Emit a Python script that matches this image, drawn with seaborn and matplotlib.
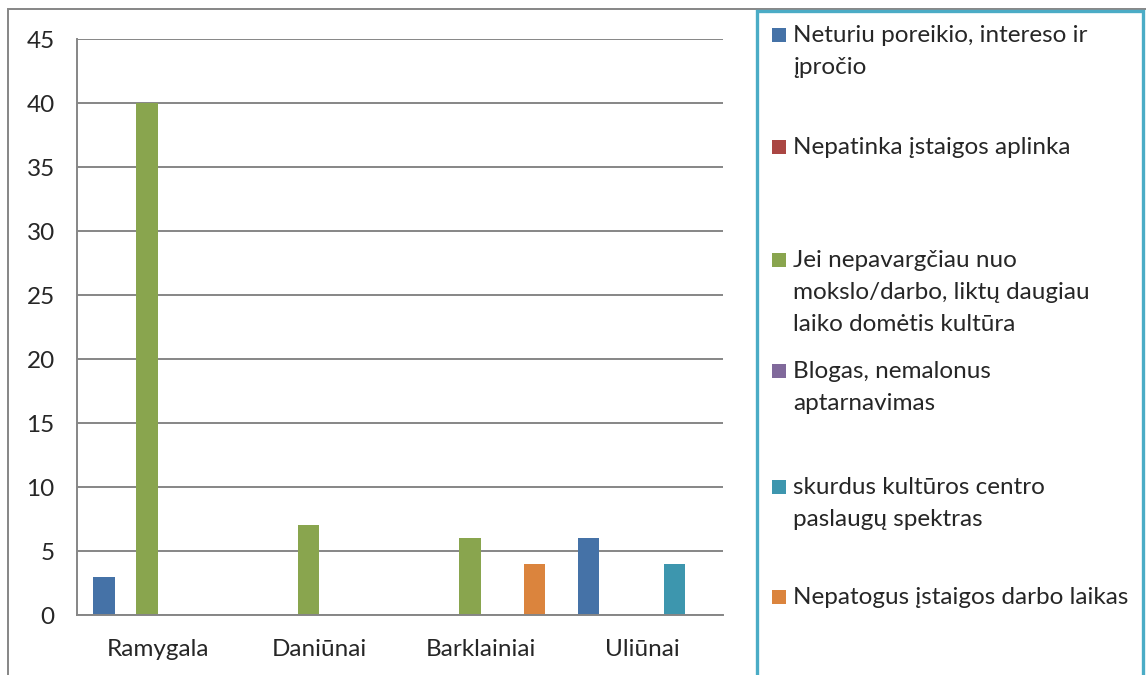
import pandas as pd
import matplotlib.pyplot as plt
import seaborn as sns
from matplotlib.patches import Rectangle

# data
vietos = ['Ramygala', 'Daniūnai', 'Barklainiai', 'Uliūnai']
serijos = [
    'Neturiu poreikio, intereso ir\nįpročio',
    'Nepatinka įstaigos aplinka',
    'Jei nepavargčiau nuo\nmokslo/darbo, liktų daugiau\nlaiko domėtis kultūra',
    'Blogas, nemalonus\naptarnavimas',
    'skurdus kultūros centro\npaslaugų spektras',
    'Nepatogus įstaigos darbo laikas',
]
neturiu = [3, 0, 0, 6]
nepatinka = [0, 0, 0, 0]
nepavargciau = [40, 7, 6, 0]
blogas = [0, 0, 0, 0]
skurdus = [0, 0, 0, 4]
nepatogus = [0, 0, 4, 0]
spalvos = ['#4572A7', '#AA4643', '#89A54E', '#80699B', '#3D96AE', '#DB843D']

rows = []
for s, vals in zip(serijos, [neturiu, nepatinka, nepavargciau, blogas, skurdus, nepatogus]):
    for v, val in zip(vietos, vals):
        rows.append({'vieta': v, 'serija': s, 'reiksme': val})
df = pd.DataFrame(rows)

sns.set_style('white')
plt.rcParams['font.family'] = ['Lato', 'DejaVu Sans']
FS = 17.5
GRAY = '#868686'

W, H = 1146, 675
fig = plt.figure(figsize=(W / 100, H / 100), dpi=100)


def fx(px):
    return px / W


def fy(py):
    return 1 - py / H


ax = fig.add_axes([fx(77), fy(615), fx(723) - fx(77), fy(39) - fy(615)])
sns.barplot(data=df, x='vieta', y='reiksme', hue='serija', palette=spalvos,
            saturation=1, width=0.8, linewidth=0, legend=False, ax=ax)

ax.set_xlim(-0.5, len(vietos) - 0.5)
ax.set_ylim(0, 45)
ax.set_yticks(range(0, 46, 5))
ax.set_xlabel('')
ax.set_ylabel('')
ax.yaxis.grid(True, color=GRAY, linewidth=1.4)
ax.set_axisbelow(True)
for side in ['top', 'right']:
    ax.spines[side].set_visible(False)
for side in ['left', 'bottom']:
    ax.spines[side].set_color(GRAY)
    ax.spines[side].set_linewidth(1.4)

ax.tick_params(axis='y', length=6, width=1.4, color=GRAY, pad=10, labelsize=FS)
ax.set_xticks([i - 0.5 for i in range(len(vietos) + 1)], minor=True)
ax.tick_params(axis='x', which='major', length=0, pad=17, labelsize=FS)
ax.tick_params(axis='x', which='minor', length=6, width=1.4, color=GRAY)

# outer chart border
fig.patches.append(Rectangle((fx(8), fy(720)), fx(1200) - fx(8), fy(9) - fy(720),
                             transform=fig.transFigure, fill=False,
                             edgecolor=GRAY, linewidth=1.4, clip_on=False))
# legend box
fig.patches.append(Rectangle((fx(757), fy(720)), fx(1143) - fx(757), fy(11) - fy(720),
                             transform=fig.transFigure, facecolor='white',
                             edgecolor='#4BACC6', linewidth=2.4, clip_on=False))

# legend entries: baseline of first line, lines 32 px apart
baselines = [42, 154, 267, 378, 494, 604]
for lab, col, b in zip(serijos, spalvos, baselines):
    fig.patches.append(Rectangle((fx(772), fy(b)), fx(786) - fx(772), fy(b - 14) - fy(b),
                                 transform=fig.transFigure, facecolor=col,
                                 edgecolor='none'))
    for i, line in enumerate(lab.split('\n')):
        fig.text(fx(793), fy(b + 32 * i), line, fontsize=FS,
                 va='baseline', ha='left')

fig.savefig('out.png', dpi=100)
